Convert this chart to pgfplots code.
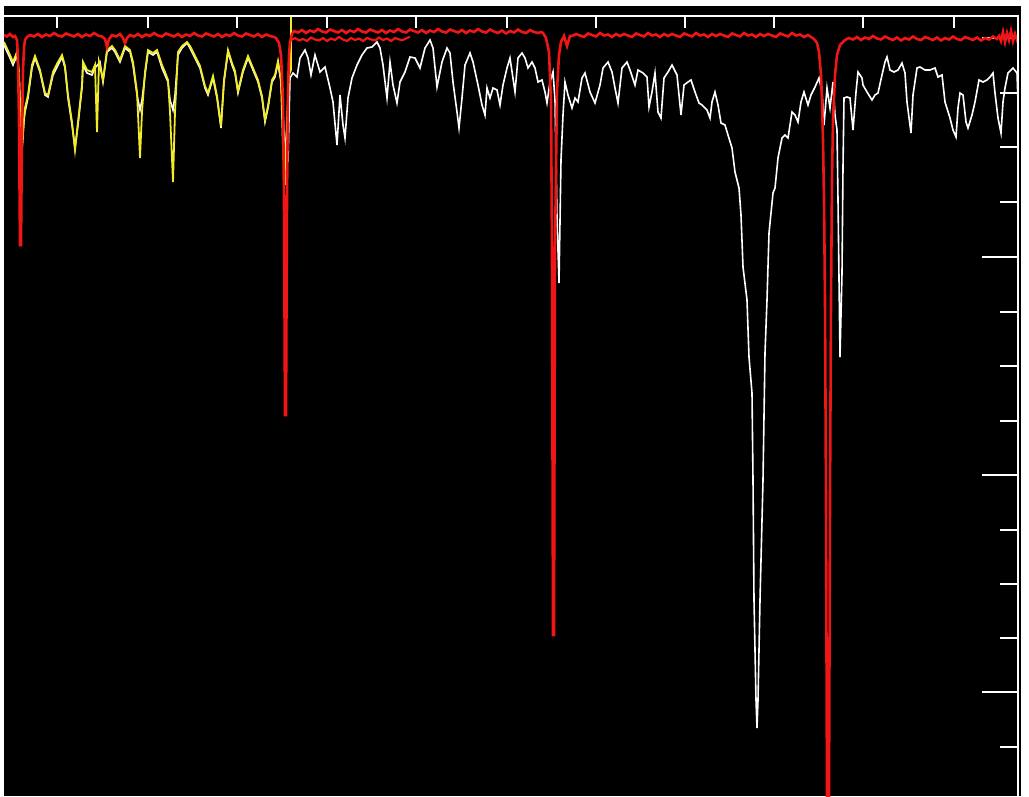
\documentclass[border=0pt]{standalone}
\usepackage{pgfplots}
\pgfplotsset{compat=1.18}
\definecolor{specred}{RGB}{240,22,22}
\definecolor{specyel}{RGB}{242,236,40}
\begin{document}
\begin{tikzpicture}
\useasboundingbox (0,0) rectangle (1029pt,796pt);
\fill[white] (0,0) rectangle (1029pt,796pt);
\fill[black] (4pt,0) rectangle (1021pt,790pt);
\begin{axis}[
 at={(4pt,0pt)}, anchor=south west, scale only axis,
 width=1014pt, height=780pt,
 xmin=4, xmax=1018, ymin=16, ymax=796, y dir=reverse,
 axis line style={draw=none},
 tick align=inside,
 xtick=\empty,
 extra x ticks={57,148,237,327,416,507,596,685,774,863,954},
 extra x tick labels={},
 extra x tick style={major tick length=12pt, xtick pos=right},
 ytick={38,257,475,692},
 minor ytick={93,147,202,312,366,421,530,584,638,747},
 yticklabels={},
 major tick length=36pt, minor tick length=18pt,
 xtick pos=right, ytick pos=right,
 tick style={white, line width=1.5pt},
 clip=true,
]
% white spectrum
\addplot[white, line width=1.6pt] table[row sep=\\]{
x y\\
4 45\\ 10 58\\ 13 65\\ 17 55\\ 19 75\\ 21 140\\ 22 150\\ 24 120\\ 25 112\\ 28 98\\ 32 68\\ 35 58\\ 40 72\\ 45 95\\ 48 97\\ 53 75\\ 58 65\\ 62 57\\ 65 68\\ 68 98\\ 72 125\\ 75 148\\ 78 125\\ 82 88\\ 83 65\\ 87 73\\ 92 75\\ 95 68\\ 100 62\\ 103 82\\ 107 52\\ 112 48\\ 115 52\\ 120 62\\ 125 48\\ 130 52\\ 133 65\\ 137 95\\ 140 110\\ 142 100\\ 145 75\\ 148 52\\ 153 55\\ 157 52\\ 162 68\\ 165 75\\ 168 82\\ 170 100\\ 173 110\\ 175 95\\ 178 55\\ 182 48\\ 187 43\\ 190 48\\ 195 58\\ 200 68\\ 205 88\\ 208 95\\ 213 78\\ 217 98\\ 221 128\\ 224 82\\ 228 52\\ 232 65\\ 235 73\\ 238 93\\ 243 72\\ 248 58\\ 253 70\\ 258 82\\ 262 98\\ 265 122\\ 268 108\\ 272 82\\ 275 77\\ 278 63\\ 281 82\\ 284 130\\ 286 150\\ 288 162\\ 290 78\\ 293 73\\ 297 77\\ 300 58\\ 305 50\\ 308 58\\ 311 75\\ 315 55\\ 320 72\\ 325 67\\ 330 88\\ 333 102\\ 337 145\\ 340 95\\ 343 125\\ 345 138\\ 348 98\\ 352 78\\ 357 65\\ 362 55\\ 367 48\\ 372 47\\ 377 42\\ 380 48\\ 383 65\\ 387 98\\ 390 62\\ 393 85\\ 397 103\\ 400 82\\ 405 72\\ 410 57\\ 415 58\\ 420 68\\ 425 48\\ 430 40\\ 433 48\\ 437 87\\ 442 62\\ 447 48\\ 450 53\\ 453 82\\ 457 112\\ 459 128\\ 462 98\\ 465 65\\ 470 53\\ 473 62\\ 478 85\\ 482 105\\ 485 115\\ 487 88\\ 490 98\\ 493 88\\ 497 90\\ 500 105\\ 503 85\\ 507 68\\ 510 58\\ 515 92\\ 518 58\\ 522 53\\ 525 58\\ 528 68\\ 532 62\\ 535 68\\ 538 82\\ 542 80\\ 545 92\\ 547 103\\ 550 82\\ 553 72\\ 555 100\\ 557 217\\ 559 283\\ 561 160\\ 563 115\\ 565 82\\ 568 95\\ 572 108\\ 575 98\\ 578 102\\ 582 78\\ 585 73\\ 590 92\\ 595 103\\ 600 85\\ 603 68\\ 608 62\\ 612 72\\ 615 88\\ 618 103\\ 622 68\\ 627 62\\ 630 70\\ 635 85\\ 638 70\\ 643 73\\ 647 77\\ 649 107\\ 652 92\\ 655 73\\ 658 112\\ 661 118\\ 664 78\\ 668 72\\ 672 65\\ 677 75\\ 681 115\\ 684 85\\ 688 82\\ 691 80\\ 695 92\\ 699 103\\ 702 105\\ 707 110\\ 710 118\\ 712 102\\ 715 92\\ 718 105\\ 721 123\\ 725 125\\ 728 135\\ 732 148\\ 735 172\\ 739 188\\ 741 215\\ 743 267\\ 747 300\\ 749 357\\ 752 393\\ 753 480\\ 754 600\\ 756 700\\ 757 728\\ 758 700\\ 760 600\\ 762 520\\ 763 480\\ 765 353\\ 767 300\\ 769 233\\ 773 193\\ 775 188\\ 778 158\\ 782 138\\ 785 135\\ 788 138\\ 792 112\\ 795 115\\ 798 122\\ 801 102\\ 804 92\\ 808 105\\ 811 95\\ 815 87\\ 819 78\\ 822 92\\ 824 125\\ 827 88\\ 830 108\\ 833 82\\ 835 115\\ 837 130\\ 838 200\\ 840 357\\ 842 273\\ 843 167\\ 844 98\\ 847 97\\ 850 98\\ 853 130\\ 856 92\\ 858 72\\ 862 78\\ 863 85\\ 867 92\\ 872 100\\ 875 95\\ 878 93\\ 882 75\\ 885 62\\ 887 57\\ 890 70\\ 894 72\\ 898 70\\ 902 63\\ 905 73\\ 907 102\\ 911 133\\ 913 95\\ 917 68\\ 920 67\\ 925 70\\ 930 70\\ 935 68\\ 938 77\\ 942 75\\ 945 102\\ 950 118\\ 953 130\\ 956 137\\ 958 108\\ 960 93\\ 963 95\\ 966 122\\ 968 128\\ 972 115\\ 975 102\\ 979 80\\ 983 82\\ 987 80\\ 990 77\\ 993 73\\ 995 93\\ 998 118\\ 1001 133\\ 1003 102\\ 1005 88\\ 1008 73\\ 1013 68\\ 1017 73\\ 1018 102\\
};
% yellow spectrum
\addplot[specyel, line width=1.8pt] table[row sep=\\]{
x y\\
4 42\\ 10 55\\ 13 62\\ 17 52\\ 19 72\\ 21 135\\ 22 148\\ 24 118\\ 25 108\\ 28 95\\ 32 65\\ 35 56\\ 40 70\\ 45 93\\ 48 95\\ 53 72\\ 58 62\\ 62 55\\ 65 66\\ 68 95\\ 72 122\\ 75 150\\ 78 122\\ 82 85\\ 83 62\\ 87 70\\ 92 72\\ 95 65\\ 97 132\\ 99 62\\ 103 80\\ 107 50\\ 112 46\\ 115 50\\ 120 60\\ 125 46\\ 130 50\\ 133 62\\ 137 92\\ 140 158\\ 142 112\\ 145 72\\ 148 50\\ 153 53\\ 157 50\\ 162 65\\ 165 72\\ 168 80\\ 170 112\\ 173 182\\ 175 112\\ 178 52\\ 182 46\\ 187 42\\ 190 46\\ 195 56\\ 200 66\\ 205 86\\ 208 93\\ 213 76\\ 217 96\\ 221 126\\ 224 80\\ 228 50\\ 232 63\\ 235 71\\ 238 91\\ 243 70\\ 248 56\\ 253 68\\ 258 80\\ 262 96\\ 265 120\\ 268 106\\ 272 80\\ 275 75\\ 278 61\\ 281 80\\ 283 148\\ 285 185\\ 287 120\\ 289 75\\ 291 70\\ 291 16\\
};
% second red trace
\addplot[specred, line width=2.2pt] table[row sep=\\]{
x y\\
291 40\\ 295 38\\ 299 40.5\\ 303 39\\ 307 41\\ 311 37.5\\ 315 39.5\\ 319 40.5\\ 323 38\\ 327 41\\ 331 38.5\\ 335 40\\ 339 37\\ 343 39.5\\ 347 41\\ 351 38\\ 355 40\\ 359 38.5\\ 363 41\\ 367 38\\ 371 39.5\\ 375 40.5\\ 379 37.5\\ 383 40\\ 387 38.5\\ 391 41\\ 395 38\\ 399 39.5\\ 403 40\\ 407 38\\ 410 37\\
};
% main red trace
\addplot[specred, line width=2.6pt] table[row sep=\\]{
x y\\
4 35\\ 7 36.5\\ 10 34\\ 13 37\\ 15 36\\ 17 40\\ 18 60\\ 19 120\\ 20 245\\ 21 245\\ 22 130\\ 23 70\\ 24 48\\ 25 40\\ 27 37\\
30 35\\ 34 36.5\\ 38 34\\ 42 37\\ 46 34.5\\ 50 36\\ 54 33\\ 58 35.5\\ 62 36.5\\ 66 33.5\\ 70 35\\ 74 36.5\\ 78 34\\ 82 37\\ 86 34.5\\ 90 36\\ 94 33\\ 98 35.5\\ 102 36.5\\ 105 39\\ 107 47\\ 109 39\\ 112 35\\ 116 36.5\\ 120 34\\ 123 38\\ 125 43\\ 127 38\\ 130 35\\ 134 36.5\\ 138 34\\ 142 37\\ 146 34.5\\ 150 36\\ 154 33\\ 158 35.5\\ 162 36.5\\ 166 33.5\\ 170 35\\ 174 36.5\\ 178 34\\ 182 37\\ 186 34.5\\ 190 36\\ 194 33\\ 198 35.5\\ 202 36.5\\ 206 33.5\\ 210 35\\ 214 36.5\\ 218 34\\ 222 37\\ 226 34.5\\ 230 36\\ 234 33\\ 238 35.5\\ 242 36.5\\ 246 33.5\\ 250 35\\ 254 36.5\\ 258 34\\ 262 37\\ 266 34.5\\ 270 36\\ 274 37\\
276 38\\ 279 43\\ 281 55\\ 283 100\\ 284 200\\ 285 415\\ 286 415\\ 287 200\\ 288 90\\ 289 55\\ 290 42\\ 292 34\\
294 31\\ 298 32.5\\ 302 30\\ 306 33\\ 310 30.5\\ 314 32\\ 318 29\\ 322 31.5\\ 326 32.5\\ 330 29.5\\ 334 31\\ 338 32.5\\ 342 30\\ 346 33\\ 350 30.5\\ 354 32\\ 358 29\\ 362 31.5\\ 366 32.5\\ 370 29.5\\ 374 31\\ 378 32.5\\ 382 30\\ 386 33\\ 390 30.5\\ 394 32\\ 398 29\\ 402 31.5\\ 406 32.5\\ 410 29.5\\ 414 31\\ 418 32.5\\ 422 30\\ 426 33\\ 430 30.5\\ 434 32\\ 438 29\\ 442 31.5\\ 446 32.5\\ 450 29.5\\ 454 31\\ 458 32.5\\ 462 30\\ 466 33\\ 470 30.5\\ 474 32\\ 478 29\\ 482 31.5\\ 486 32.5\\ 490 29.5\\ 494 31.5\\ 498 33\\ 502 30.5\\ 506 33.5\\ 510 31\\ 514 32.5\\ 518 29.5\\ 522 32\\ 526 33\\ 530 30\\ 534 32\\ 538 33\\ 541 32\\
543 33\\ 546 38\\ 549 52\\ 551 100\\ 552 250\\ 553 635\\ 554 635\\ 555 250\\ 557 90\\ 559 55\\ 561 42\\ 564 36\\ 567 46\\ 570 36\\
572 36\\ 576 34\\ 580 35.5\\ 584 37\\ 588 33.5\\ 592 35\\ 596 36.5\\ 600 33\\ 604 35.5\\ 608 34.5\\ 612 37\\ 616 34\\ 620 36\\ 624 34\\ 628 35.5\\ 632 37\\ 636 33.5\\ 640 35\\ 644 36.5\\ 648 33\\ 652 35.5\\ 656 34.5\\ 660 37\\ 664 34\\ 668 36\\ 672 34\\ 676 35.5\\ 680 37\\ 684 33.5\\ 688 35\\ 692 36.5\\ 696 33\\ 700 35.5\\ 704 34.5\\ 708 37\\ 712 34\\ 716 36\\ 720 34\\ 724 35.5\\ 728 37\\ 732 33.5\\ 736 35\\ 740 36.5\\ 744 33\\ 748 35.5\\ 752 34.5\\ 756 37\\ 760 34\\ 764 36\\ 768 34\\ 772 35.5\\ 776 37\\ 780 33.5\\ 784 35\\ 788 36.5\\ 792 33\\ 796 35.5\\ 800 34.5\\ 804 37\\ 808 35\\ 811 37\\
814 39\\ 817 43\\ 819 52\\ 821 75\\ 822 100\\ 823 140\\ 824 200\\ 825 300\\ 826 500\\ 827 800\\ 828 850\\ 829 800\\ 830 500\\ 831 300\\ 832 180\\ 833 120\\ 835 75\\ 837 55\\ 840 45\\ 845 40\\
849 38\\ 853 39.5\\ 857 37\\ 861 40\\ 865 37.5\\ 869 39\\ 873 36\\ 877 38.5\\ 881 39.5\\ 885 36.5\\ 889 38.5\\ 893 40\\ 897 37.5\\ 901 40.5\\ 905 38\\ 909 39.5\\ 913 36.5\\ 917 39\\ 921 40\\ 925 37\\ 929 38.5\\ 933 40\\ 937 37.5\\ 941 40.5\\ 945 38\\ 949 39.5\\ 953 36.5\\ 957 39\\ 961 40\\ 965 37\\ 969 38.5\\ 973 40\\ 977 37.5\\ 981 40.5\\ 985 38\\ 989 39.5\\ 993 36.5\\ 997 39\\
999 36\\ 1001 41\\ 1003 32\\ 1005 42\\ 1007 33\\ 1009 40\\ 1011 31\\ 1013 41\\ 1015 34\\ 1017 40\\ 1018 36\\
};
\end{axis}
\draw[white, line width=2pt] (4pt,780pt) -- (1018pt,780pt) -- (1018pt,0pt);
\end{tikzpicture}
\end{document}
